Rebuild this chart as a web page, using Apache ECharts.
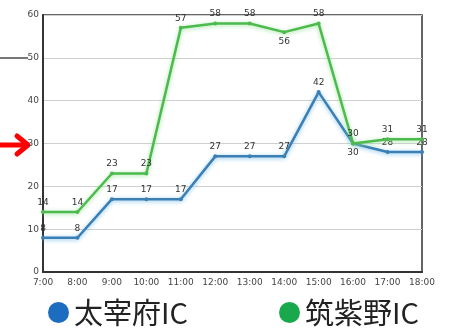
<!DOCTYPE html>
<html><head><meta charset="utf-8">
<script src="https://cdn.jsdelivr.net/npm/echarts@6/dist/echarts.min.js"></script>
<style>html,body{margin:0;padding:0;background:#fff}#c{width:456px;height:331px}</style>
</head><body><div id="c"></div>
<script>
var categories = ['7:00','8:00','9:00','10:00','11:00','12:00','13:00','14:00','15:00','16:00','17:00','18:00'];
var dazaifu = [8,8,17,17,17,27,27,27,42,30,28,28];
var chikushino = [14,14,23,23,57,58,58,56,58,30,31,31];
var seriesNames = ['太宰府IC','筑紫野IC'];
var yTicks = {min:0, max:60, interval:10};

var chart = echarts.init(document.getElementById('c'));
var F = '"DejaVu Sans", sans-serif';
function blueData(){
  return dazaifu.map(function(v,i){
    var d = {value:v};
    if (i===9) d.label = {position:'bottom'};
    return d;
  });
}
function greenData(){
  return chikushino.map(function(v,i){
    var d = {value:v};
    if (i===7) d.label = {position:'bottom'};
    return d;
  });
}
var LF = {fontSize:29,color:'#222',fontFamily:'"Noto Sans CJK JP", sans-serif'};
chart.setOption({
  animation:false,
  backgroundColor:'#fff',
  grid:{left:43,right:34,top:15,bottom:59,show:true,borderColor:'#333',borderWidth:1.5},
  legend:[
    {data:[{name:seriesNames[0],itemStyle:{color:'#1c6cc0'}}],left:43,top:293,icon:'circle',itemWidth:21,itemHeight:21,itemGap:2,
     textStyle:LF},
    {data:[{name:seriesNames[1],itemStyle:{color:'#1aa84c'}}],left:274,top:293,icon:'circle',itemWidth:21,itemHeight:21,itemGap:2,
     textStyle:LF}
  ],
  xAxis:{type:'category',data:categories,boundaryGap:false,
    axisLine:{lineStyle:{color:'#333',width:2}},axisTick:{show:false},
    axisLabel:{color:'#444',fontSize:9,fontFamily:F,margin:6,interval:0},
    splitLine:{show:false}},
  yAxis:{type:'value',min:yTicks.min,max:yTicks.max,interval:yTicks.interval,
    axisLine:{show:true,lineStyle:{color:'#333',width:2}},axisTick:{show:false},
    axisLabel:{color:'#444',fontSize:9,fontFamily:F,margin:4},
    splitLine:{lineStyle:{color:'#d0d0d0',width:1}}},
  series:[
    {name:seriesNames[0],type:'line',data:blueData(),
     symbol:'circle',symbolSize:4,
     lineStyle:{color:'#3c7fb4',width:2.5,shadowColor:'rgba(120,190,235,0.9)',shadowBlur:4,shadowOffsetY:1},
     itemStyle:{color:'#3c7fb4'},
     label:{show:true,position:'top',color:'#333',fontSize:9,fontFamily:F,distance:3},z:2},
    {name:seriesNames[1],type:'line',data:greenData(),
     symbol:'circle',symbolSize:4,
     lineStyle:{color:'#4cba4c',width:2.5,shadowColor:'rgba(150,225,150,0.9)',shadowBlur:4,shadowOffsetY:1},
     itemStyle:{color:'#4cba4c'},
     label:{show:true,position:'top',color:'#333',fontSize:9,fontFamily:F,distance:3},z:3}
  ],
  graphic:[
    {type:'line',shape:{x1:0,y1:58,x2:28,y2:58},style:{stroke:'#777',lineWidth:2}},
    {type:'polyline',shape:{points:[[0,145],[26,145]]},style:{stroke:'#f00',lineWidth:5,lineCap:'round'}},
    {type:'polyline',shape:{points:[[17,136],[28,145],[17,154]]},style:{stroke:'#f00',lineWidth:5,lineCap:'round',lineJoin:'round',fill:null}}
  ]
});
</script></body></html>
